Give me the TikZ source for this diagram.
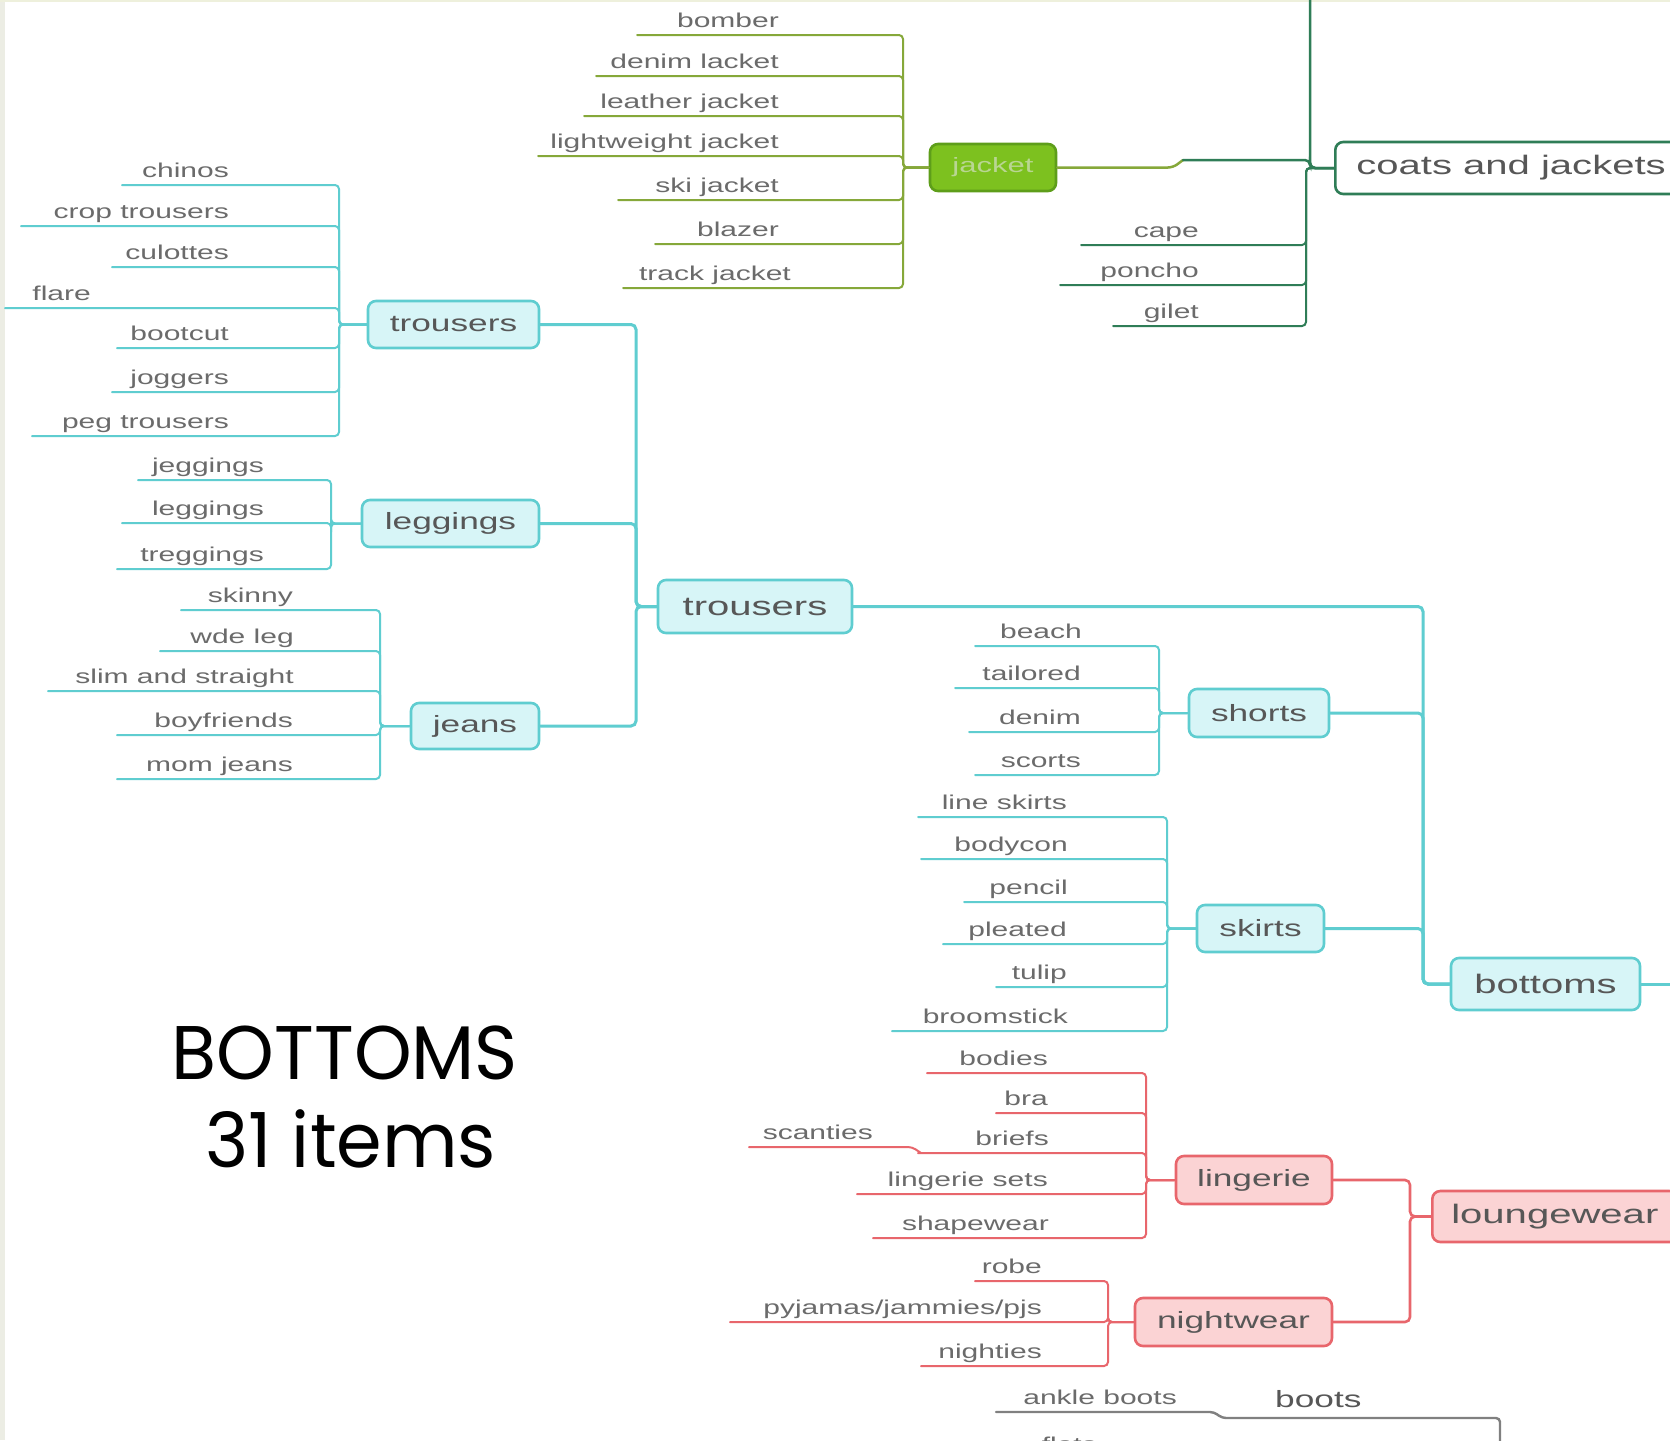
\documentclass[tikz,border=0pt]{standalone}
\usepackage{fontspec}
\usetikzlibrary{calc}
\newfontfamily\mapfont{Liberation Sans}[FakeStretch=1.5]
\newfontfamily\titlefont{Poppins}[FakeStretch=0.966]

\definecolor{leafgrey}{HTML}{6B6B6B}
\definecolor{nodegrey}{HTML}{575757}
\definecolor{cyanline}{HTML}{5FCDD0}
\definecolor{cyanfill}{HTML}{D7F5F7}
\definecolor{olive}{HTML}{86A83A}
\definecolor{jacketfill}{HTML}{7DC11F}
\definecolor{jacketedge}{HTML}{5E9E1A}
\definecolor{jackettext}{HTML}{B9D692}
\definecolor{darkgreen}{HTML}{2F7D57}
\definecolor{redline}{HTML}{E8666C}
\definecolor{redfill}{HTML}{FBD3D4}
\definecolor{bootgrey}{HTML}{808080}
\definecolor{edgestrip}{HTML}{ECEDE4}
\definecolor{topstrip}{HTML}{EEF0DC}

\tikzset{
  leaftext/.style={font=\mapfont\fontsize{20}{24}\selectfont, text=leafgrey, inner sep=0pt, anchor=base east},
  wire/.style={line width=2pt, rounded corners=4pt, line cap=round},
  trunk/.style={line width=3pt, rounded corners=5pt, line cap=round},
  boxbase/.style={line width=2.6pt, rounded corners=8pt, inner sep=0pt, text=nodegrey},
  midbox/.style={boxbase, font=\mapfont\fontsize{23.5}{28}\selectfont},
  topbox/.style={boxbase, font=\mapfont\fontsize{26.7}{32}\selectfont},
  cyanbox/.style={draw=cyanline, fill=cyanfill},
  redbox/.style={draw=redline, fill=redfill},
  titletext/.style={font=\titlefont\fontsize{76}{88}\selectfont, text=black, inner sep=0pt, anchor=base}
}

% a leaf: name, text, right edge of text, y of its underline, left end of the underline
\newcommand\leaf[5]{%
  \coordinate (#1-l) at (#5,#4);
  \node[leaftext] (#1) at (#3,#4-7.5) {#2};
}

\begin{document}
\begin{tikzpicture}[x=1pt,y=-1pt]
\useasboundingbox (0,0) rectangle (1670,1440);
\clip (0,0) rectangle (1670,1440);
\fill[white] (0,0) rectangle (1670,1440);
\fill[edgestrip] (0,0) rectangle (5,1440);
\fill[topstrip] (0,0) rectangle (1670,2);

% ---------- coats and jackets ----------
\node[boxbase, topbox, draw=darkgreen, fill=white, anchor=west, minimum height=52, inner xsep=21pt] (coats) at (1334,168) {coats and jackets};
\node[boxbase, draw=jacketedge, fill=jacketfill, text=jackettext, font=\mapfont\fontsize{20.7}{25}\selectfont, minimum width=126, minimum height=47] (jacket) at (993,167.5) {jacket};

\leaf{bomber}{bomber}{779}{35}{637}
\leaf{denim}{denim lacket}{779}{76}{596}
\leaf{leather}{leather jacket}{779}{116}{584}
\leaf{light}{lightweight jacket}{779}{156}{538}
\leaf{ski}{ski jacket}{779}{200}{618}
\leaf{blazer}{blazer}{779}{244}{655}
\leaf{track}{track jacket}{791}{288}{623}
\coordinate (jbar) at (903,167.5);
\foreach \n in {bomber,denim,leather,light,ski,blazer,track}
  \draw[wire, olive] (\n-l) -- (\n-l -| jbar) |- (jacket.west);

\leaf{cape}{cape}{1199}{245}{1081}
\leaf{poncho}{poncho}{1199}{285}{1060}
\leaf{gilet}{gilet}{1199}{326}{1113}
\coordinate (cbarU) at (1310,168);
\coordinate (cbarL) at (1306,168);
\coordinate (ctop) at (1310,-6);
\coordinate (jstep) at (1173,167.5);
\coordinate (jstep2) at (1183,160);
\foreach \n in {cape,poncho,gilet}
  \draw[wire, darkgreen] (\n-l) -- (\n-l -| cbarL) |- (coats.west);
\draw[trunk, darkgreen, line width=2.5pt] (ctop) |- (coats.west);
\draw[trunk, olive, line width=2.5pt] (jacket.east) -- (jstep) -- (jstep2);
\draw[trunk, darkgreen, line width=2.5pt] (jstep2) -| (cbarU) -- (coats.west);

% ---------- trousers ----------
\node[midbox, cyanbox, minimum width=171, minimum height=47] (tu) at (453.5,324.5) {trousers};
\node[midbox, cyanbox, minimum width=177, minimum height=47] (lg) at (450.5,523.5) {leggings};
\node[midbox, cyanbox, minimum width=128, minimum height=46] (jn) at (475,726) {jeans};
\node[topbox, cyanbox, minimum width=194, minimum height=53] (tm) at (755,606.5) {trousers};

\leaf{chinos}{chinos}{229}{185}{122}
\leaf{crop}{crop trousers}{229}{226}{21}
\leaf{culottes}{culottes}{229}{267}{112}
\leaf{flare}{flare}{91}{308}{5}
\leaf{bootcut}{bootcut}{229}{348}{117}
\leaf{joggers}{joggers}{229}{392}{112}
\leaf{peg}{peg trousers}{229}{436}{32}
\coordinate (tbar) at (339,324.5);
\foreach \n in {chinos,crop,culottes,flare,bootcut,joggers,peg}
  \draw[wire, cyanline] (\n-l) -- (\n-l -| tbar) |- (tu.west);

\leaf{jeggings}{jeggings}{264}{480}{138}
\leaf{leggingsleaf}{leggings}{264}{523}{122}
\leaf{treggings}{treggings}{264}{569}{117}
\coordinate (lbarx) at (331,523.5);
\foreach \n in {jeggings,leggingsleaf,treggings}
  \draw[wire, cyanline] (\n-l) -- (\n-l -| lbarx) |- (lg.west);

\leaf{skinny}{skinny}{293}{610}{181}
\leaf{wide}{wde leg}{294}{651}{160}
\leaf{slim}{slim and straight}{294}{691}{48}
\leaf{boyfriends}{boyfriends}{293}{735}{117}
\leaf{mom}{mom jeans}{293}{779}{117}
\coordinate (jnbar) at (380,726);
\foreach \n in {skinny,wide,slim,boyfriends,mom}
  \draw[wire, cyanline] (\n-l) -- (\n-l -| jnbar) |- (jn.west);

\coordinate (mbar) at (636,606.5);
\foreach \n in {tu,lg,jn}
  \draw[trunk, cyanline] (\n.east) -| (mbar) -- (tm.west);

% ---------- shorts and skirts ----------
\node[midbox, cyanbox, minimum width=140, minimum height=48] (sh) at (1259,713) {shorts};
\node[midbox, cyanbox, minimum width=127, minimum height=47] (sk) at (1260.5,928.5) {skirts};
\node[topbox, cyanbox, minimum width=189, minimum height=52] (bottoms) at (1545.5,984) {bottoms};

\leaf{beach}{beach}{1082}{646}{975}
\leaf{tailored}{tailored}{1081}{688}{955}
\leaf{denimshort}{denim}{1081}{732}{969}
\leaf{scorts}{scorts}{1081}{775}{975}
\coordinate (shbar) at (1159,713);
\foreach \n in {beach,tailored,denimshort,scorts}
  \draw[wire, cyanline] (\n-l) -- (\n-l -| shbar) |- (sh.west);

\leaf{lineskirts}{line skirts}{1067}{817}{918}
\leaf{bodycon}{bodycon}{1068}{859}{921}
\leaf{pencil}{pencil}{1068}{902}{964}
\leaf{pleated}{pleated}{1067}{944}{943}
\leaf{tulip}{tulip}{1067}{987}{996}
\leaf{broomstick}{broomstick}{1068}{1031}{892}
\coordinate (skbar) at (1167,928.5);
\foreach \n in {lineskirts,bodycon,pencil,pleated,tulip,broomstick}
  \draw[wire, cyanline] (\n-l) -- (\n-l -| skbar) |- (sk.west);

\coordinate (bbar) at (1423,984);
\coordinate (bout) at (1680,984);
\foreach \n in {tm,sh,sk}
  \draw[trunk, cyanline] (\n.east) -| (bbar) -- (bottoms.west);
\draw[trunk, cyanline] (bottoms.east) -- (bout);

% ---------- loungewear ----------
\node[midbox, redbox, minimum width=156, minimum height=48] (li) at (1254,1180) {lingerie};
\node[midbox, redbox, minimum width=197, minimum height=48] (nw) at (1233.5,1322) {nightwear};
\node[topbox, redbox, anchor=west, minimum height=51, inner xsep=19pt] (lw) at (1431,1216.5) {loungewear};

\leaf{bodies}{bodies}{1048}{1073}{927}
\leaf{bra}{bra}{1048}{1113}{996}
\leaf{briefs}{briefs}{1049}{1153}{918}
\leaf{sets}{lingerie sets}{1048}{1194}{857}
\leaf{shapewear}{shapewear}{1049}{1238}{873}
\leaf{scanties}{scanties}{873}{1147}{749}
\coordinate (libar) at (1146,1180);
\foreach \n in {bodies,bra,briefs,sets,shapewear}
  \draw[wire, redline] (\n-l) -- (\n-l -| libar) |- (li.west);
\draw[wire, redline] (scanties-l) -- ($(briefs-l)+(-6,-6)$) -- ($(briefs-l)+(3,0)$);

\leaf{robe}{robe}{1042}{1281}{975}
\leaf{pyjamas}{pyjamas/jammies/pjs}{1042}{1322}{730}
\leaf{nighties}{nighties}{1042}{1366}{921}
\coordinate (nwbar) at (1108,1322);
\foreach \n in {robe,pyjamas,nighties}
  \draw[wire, redline] (\n-l) -- (\n-l -| nwbar) |- (nw.west);

\coordinate (lwbar) at (1410,1216.5);
\foreach \n in {li,nw}
  \draw[trunk, redline, line width=2.6pt] (\n.east) -| (lwbar) -- (lw.west);

% ---------- boots ----------
\leaf{ankle}{ankle boots}{1177}{1412}{996}
\node[font=\mapfont\fontsize{23.5}{28}\selectfont, text=nodegrey, inner sep=0pt, anchor=base west] (boots) at (1275,1407) {boots};
\coordinate (boots-l) at (1222,1418);
\coordinate (bootsbar) at (1500,1418);
\coordinate (bootsdown) at (1500,1460);
\draw[wire, bootgrey, line width=2.4pt] (ankle-l) -- ($(boots-l)+(-8,-6)$) -- (boots-l) -- (bootsbar) -- (bootsdown);
\leaf{flats}{flats}{1097}{1459}{1040}

% ---------- title ----------
\node[titletext] (title1) at (345,1079) {BOTTOMS};
\node[titletext] (title2) at (351,1167) {31 items};
\end{tikzpicture}
\end{document}
